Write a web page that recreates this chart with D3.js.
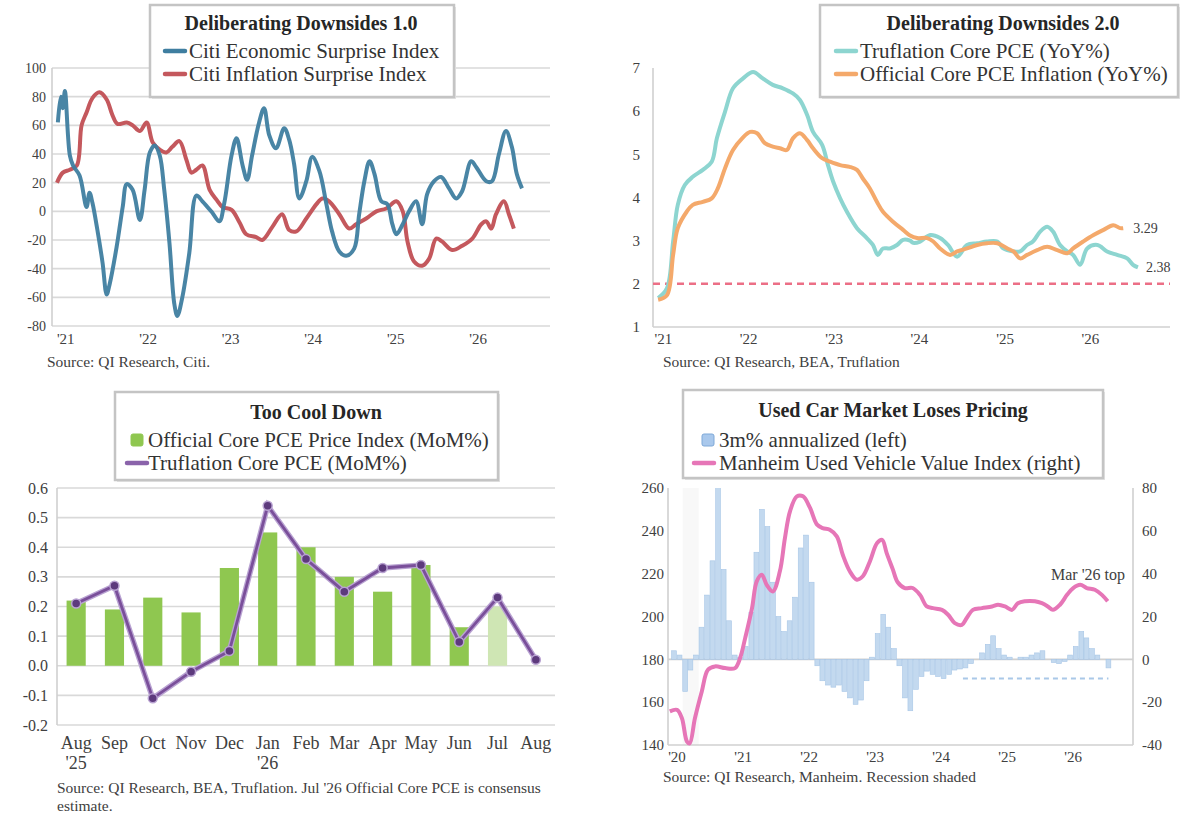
<!DOCTYPE html>
<html lang="en">
<head>
<meta charset="UTF-8">
<title>Inflation Dashboard</title>
<script src="https://cdn.jsdelivr.net/npm/d3@7.8.5/dist/d3.min.js"></script>
<style>
  body { margin: 0; background: #fff; }
  svg { display: block; font-family: "Liberation Serif", "Times New Roman", serif; }
  .tick { fill: #404040; }
  .grid { stroke: #d9d9d9; stroke-width: 1.6; }
  .axis { stroke: #d0d0d0; stroke-width: 1.6; }
  .legend-box { fill: #fff; stroke: #c4c4c4; stroke-width: 2.5; }
  .source { font-size: 15.5px; fill: #404040; }
</style>
</head>
<body>
<svg id="chart" width="1190" height="822"></svg>
<script>
// ---- Panel 1: Citi surprise indices ----
const citiEconomic = [
  ["2020-11-27",62],["2020-12-10",80],["2020-12-19",72],["2020-12-28",84],["2021-01-19",39],
  ["2021-02-02",32],["2021-03-03",25],["2021-04-03",3],["2021-04-16",13],["2021-04-29",6],
  ["2021-05-21",-13],["2021-06-13",-36],["2021-07-01",-58],["2021-07-14",-51],["2021-08-14",-25],
  ["2021-09-10",3],["2021-09-28",19],["2021-10-24",15],["2021-11-25",-6],["2021-12-16",15],
  ["2022-01-08",41],["2022-01-30",46],["2022-02-21",39],["2022-03-13",15],["2022-04-05",-22],
  ["2022-04-27",-65],["2022-05-10",-73],["2022-06-01",-60],["2022-07-02",-29],["2022-08-02",11],
  ["2022-08-29",7],["2022-10-12",-1],["2022-11-12",-7],["2022-12-04",6],["2023-01-05",39],
  ["2023-01-27",51],["2023-02-23",32],["2023-03-15",22],["2023-04-06",39],["2023-05-07",62],
  ["2023-05-29",72],["2023-06-21",53],["2023-07-21",44],["2023-08-26",58],["2023-09-17",50],
  ["2023-10-09",33],["2023-11-01",9],["2023-12-02",21],["2023-12-28",38],["2024-01-29",28],
  ["2024-02-29",5],["2024-03-25",-14],["2024-04-26",-28],["2024-05-27",-31],["2024-07-01",-26],
  ["2024-07-23",-2],["2024-08-15",21],["2024-09-07",35],["2024-09-29",26],["2024-10-29",7],
  ["2024-11-25",5],["2024-12-17",-9],["2025-01-04",-16],["2025-02-01",-9],["2025-03-01",0],
  ["2025-04-01",7],["2025-04-28",-9],["2025-05-20",12],["2025-06-20",21],["2025-07-21",24],
  ["2025-08-25",16],["2025-09-26",9],["2025-10-22",14],["2025-12-01",35],["2025-12-23",31],
  ["2026-02-06",21],["2026-03-03",21],["2026-04-03",40],["2026-05-04",56],["2026-05-30",45],
  ["2026-06-21",26],["2026-07-14",16]
];
const citiInflation = [
  ["2020-11-23",20],["2020-12-19",27],["2021-01-19",29],["2021-02-19",32],["2021-03-12",60],
  ["2021-04-03",69],["2021-04-29",79],["2021-05-30",83],["2021-07-01",78],["2021-07-27",67],
  ["2021-08-18",61],["2021-09-28",62],["2021-10-24",60],["2021-11-25",56],["2021-12-25",62],
  ["2022-01-21",48],["2022-02-21",43],["2022-03-22",41],["2022-04-18",45],["2022-05-19",49],
  ["2022-06-19",36],["2022-07-11",27],["2022-08-02",29],["2022-08-29",32],["2022-09-30",15],
  ["2022-10-31",8],["2022-11-26",3],["2023-01-05",1],["2023-02-10",-8],["2023-03-11",-16],
  ["2023-04-24",-18],["2023-05-21",-20],["2023-07-04",-11],["2023-08-17",-2],["2023-09-17",-13],
  ["2023-10-19",-14],["2023-12-02",-5],["2024-01-16",5],["2024-02-11",9],["2024-03-12",7],
  ["2024-04-26",-2],["2024-06-09",-12],["2024-07-10",-9],["2024-08-23",-5],["2024-10-07",0],
  ["2024-11-20",2],["2025-01-04",7],["2025-02-01",0],["2025-02-22",-21],["2025-03-23",-35],
  ["2025-04-28",-38],["2025-05-29",-33],["2025-06-29",-19],["2025-07-25",-21],["2025-09-08",-27],
  ["2025-10-22",-24],["2025-12-06",-19],["2026-01-15",-9],["2026-02-06",-7],["2026-02-28",-12],
  ["2026-03-21",-2],["2026-04-25",7],["2026-05-17",-2],["2026-06-08",-12]
];

// ---- Panel 2: Core PCE YoY ----
const truflationYoY = [
  ["2020-12-10",1.67],["2021-01-17",1.90],["2021-02-12",2.98],["2021-03-04",3.83],["2021-04-03",4.29],
  ["2021-05-07",4.48],["2021-06-19",4.64],["2021-07-27",4.83],["2021-08-18",5.37],["2021-09-22",5.99],
  ["2021-10-26",6.53],["2021-12-08",6.76],["2022-01-20",6.91],["2022-03-02",6.76],["2022-04-14",6.61],
  ["2022-05-27",6.53],["2022-07-09",6.41],["2022-08-08",6.26],["2022-09-08",5.91],["2022-10-03",5.52],
  ["2022-11-11",5.22],["2022-12-06",4.75],["2022-12-28",4.37],["2023-01-27",3.98],["2023-02-25",3.67],
  ["2023-04-09",3.29],["2023-05-21",3.06],["2023-06-16",2.90],["2023-07-07",2.67],["2023-07-29",2.82],
  ["2023-08-28",2.82],["2023-09-27",2.90],["2023-10-23",3.02],["2023-11-22",3.00],["2023-12-05",2.95],
  ["2024-01-04",2.98],["2024-02-16",3.13],["2024-03-29",3.06],["2024-05-02",2.90],["2024-06-10",2.63],
  ["2024-07-22",2.90],["2024-09-04",2.94],["2024-10-16",2.98],["2024-11-29",2.98],["2024-12-24",2.82],
  ["2025-02-06",2.75],["2025-03-06",2.75],["2025-04-05",2.90],["2025-04-30",2.98],["2025-05-31",3.21],
  ["2025-06-30",3.32],["2025-07-25",3.21],["2025-08-24",2.90],["2025-09-24",2.75],["2025-10-19",2.67],
  ["2025-11-18",2.44],["2025-12-18",2.82],["2026-01-31",2.90],["2026-03-13",2.75],["2026-04-25",2.67],
  ["2026-06-07",2.59],["2026-07-02",2.44],["2026-07-23",2.38]
];
const officialYoY = [
  ["2020-12-10",1.63],["2021-01-17",1.74],["2021-02-12",2.67],["2021-03-04",3.29],["2021-04-11",3.67],
  ["2021-05-07",3.83],["2021-06-19",3.90],["2021-07-27",3.98],["2021-08-22",4.21],["2021-09-22",4.68],
  ["2021-10-26",5.10],["2021-12-04",5.37],["2022-01-07",5.52],["2022-02-06",5.49],["2022-03-11",5.26],
  ["2022-04-14",5.18],["2022-05-14",5.14],["2022-06-13",5.10],["2022-07-09",5.37],["2022-08-08",5.49],
  ["2022-09-08",5.33],["2022-10-03",5.14],["2022-11-11",4.91],["2022-12-15",4.83],["2023-01-27",4.75],
  ["2023-03-09",4.71],["2023-04-09",4.64],["2023-05-04",4.44],["2023-06-03",4.21],["2023-07-03",3.90],
  ["2023-07-29",3.67],["2023-09-10",3.44],["2023-10-23",3.25],["2023-11-22",3.12],["2023-12-22",3.06],
  ["2024-02-03",3.06],["2024-02-29",2.98],["2024-03-29",2.82],["2024-05-11",2.67],["2024-06-10",2.75],
  ["2024-07-22",2.82],["2024-09-04",2.90],["2024-10-16",2.94],["2024-11-29",2.94],["2025-01-11",2.82],
  ["2025-02-06",2.75],["2025-03-06",2.59],["2025-04-05",2.67],["2025-05-18",2.78],["2025-06-30",2.86],
  ["2025-08-12",2.78],["2025-09-24",2.71],["2025-10-19",2.82],["2025-12-01",2.98],["2026-01-14",3.13],
  ["2026-02-26",3.25],["2026-04-08",3.36],["2026-05-08",3.29],["2026-05-21",3.29]
];
const pceTarget = 2;

// ---- Panel 3: MoM ----
const momMonths = ["Aug '25","Sep","Oct","Nov","Dec","Jan '26","Feb","Mar","Apr","May","Jun","Jul","Aug"];
const officialMoM = [0.22,0.19,0.23,0.18,0.33,0.45,0.40,0.30,0.25,0.34,0.13,0.20,null];
const officialIsEstimate = [false,false,false,false,false,false,false,false,false,false,false,true,false];
const truflationMoM = [0.21,0.27,-0.11,-0.02,0.05,0.54,0.36,0.25,0.33,0.34,0.08,0.23,0.02];

// ---- Panel 4: used cars ----
const bars3mStart = "2019-12-15";
const bars3mValues = [4,2,-15,-5,2,15,30,46,95,42,18,2,1,6,22,50,70,62,36,20,13,18,29,52,58,36,
  -3,-10,-12,-13,-12,-15,-18,-21,-19,-10,1,12,21,15,5,-3,-18,-24,-14,-8,-5.5,-7,-8,-9,-7,-5,-4.5,-4,
  -2,0,3,7,11,5,2,1,0,1,1,2,3,4,0,-1.5,-2,-1,2,6,13,10,5,2,0,-4];
const barsGuide = {from: "2024-05-01", to: "2026-07-15", value: -9};
const manheim = [
  ["2019-11-22",155.7],["2020-01-01",156.4],["2020-01-28",152.5],["2020-02-25",141.6],["2020-03-11",140.8],
  ["2020-04-09",152.5],["2020-05-17",165],["2020-06-20",175.1],["2020-07-29",176.7],["2020-09-23",175.9],
  ["2020-11-17",175.9],["2020-12-15",180.6],["2021-01-12",189.9],["2021-02-19",203.9],["2021-03-17",216.4],
  ["2021-04-14",219.5],["2021-05-11",214.8],["2021-06-14",211.7],["2021-07-23",221.1],["2021-08-20",236.6],
  ["2021-09-17",249.1],["2021-10-25",256.1],["2021-11-28",256.1],["2022-01-06",250.7],["2022-02-14",242.9],
  ["2022-03-17",241.3],["2022-04-25",240.5],["2022-06-03",237.4],["2022-07-06",228.8],["2022-08-14",221.1],
  ["2022-09-22",217.2],["2022-10-25",218.8],["2022-12-03",225.7],["2023-01-12",234.3],["2023-02-09",235.8],
  ["2023-03-06",229.6],["2023-04-09",222],["2023-05-06",216],["2023-06-14",213.3],["2023-07-28",213.3],
  ["2023-09-06",210.1],["2023-10-14",204.7],["2023-11-17",203.9],["2024-01-06",203.1],["2024-02-09",200.8],
  ["2024-03-17",196.9],["2024-04-25",196.1],["2024-05-22",199.3],["2024-06-25",203.1],["2024-08-14",203.9],
  ["2024-10-09",204.7],["2024-11-11",205.5],["2024-12-20",204.7],["2025-01-28",203.1],["2025-03-01",206.2],
  ["2025-04-09",207.1],["2025-06-03",207.1],["2025-07-12",206.2],["2025-08-14",204.7],["2025-09-11",203.1],
  ["2025-10-20",205.5],["2025-11-28",210.1],["2026-01-01",213.3],["2026-02-09",214.8],["2026-03-17",213.3],
  ["2026-05-01",212.5],["2026-06-09",210.1],["2026-07-11",207.1]
];
const recessions = [["2020-02-01","2020-04-30"]];

const parse = d3.timeParse("%Y-%m-%d");
const yearFmt = d => "'" + d3.timeFormat("%y")(d);
const svg = d3.select("#chart");

function legend(g, o) {
  g.append("rect").attr("x", o.x + 2).attr("y", o.y + 2).attr("width", o.w).attr("height", o.h).attr("fill", "#e4e4e4");
  g.append("rect").attr("class", "legend-box").attr("x", o.x).attr("y", o.y).attr("width", o.w).attr("height", o.h);
  g.append("text").attr("x", o.tx).attr("y", o.ty).attr("text-anchor", "middle")
    .attr("font-size", 20).attr("font-weight", "bold").attr("fill", "#262626").text(o.title);
  o.items.forEach(it => {
    if (it.square) {
      g.append("rect").attr("x", it.mx - 6).attr("y", it.y - 6).attr("width", 12).attr("height", 12)
        .attr("rx", 2).attr("fill", it.color).attr("stroke", it.stroke || it.color);
    } else {
      g.append("line").attr("x1", it.mx - 10).attr("x2", it.mx + 10).attr("y1", it.y).attr("y2", it.y)
        .attr("stroke", it.color).attr("stroke-width", 4.5).attr("stroke-linecap", "round");
    }
    g.append("text").attr("x", it.lx).attr("y", it.y).attr("dy", "0.35em")
      .attr("font-size", 21).attr("fill", "#333").text(it.label);
  });
}

// ================= Panel 1 =================
{
  const g = svg.append("g");
  const x = d3.scaleTime().domain([new Date(2020, 10, 1), new Date(2026, 10, 15)]).range([52, 550]);
  const y = d3.scaleLinear().domain([-80, 100]).range([326, 68]);
  g.selectAll(".grid").data(y.ticks(10)).join("line").attr("class", "grid")
    .attr("x1", 52).attr("x2", 550).attr("y1", d => y(d)).attr("y2", d => y(d));
  g.append("line").attr("class", "axis").attr("x1", 52).attr("x2", 52).attr("y1", y(100)).attr("y2", y(-80));
  g.selectAll(".yl").data(y.ticks(10)).join("text").attr("class", "tick")
    .attr("x", 46).attr("y", d => y(d)).attr("dy", "0.35em").attr("text-anchor", "end")
    .attr("font-size", 14).text(d => d);
  g.selectAll(".xl").data(d3.timeYear.range(new Date(2021, 0, 1), new Date(2027, 0, 1))).join("text")
    .attr("class", "tick").attr("x", d => x(d)).attr("y", 344).attr("text-anchor", "middle")
    .attr("font-size", 15).text(yearFmt);
  const line = d3.line().x(d => x(parse(d[0]))).y(d => y(d[1])).curve(d3.curveCatmullRom.alpha(0.5));
  g.append("path").attr("d", line(citiInflation)).attr("fill", "none").attr("stroke", "#c4585d")
    .attr("stroke-width", 4).attr("stroke-linejoin", "round");
  g.append("path").attr("d", line(citiEconomic)).attr("fill", "none").attr("stroke", "#3f7ea0")
    .attr("stroke-width", 4).attr("stroke-linejoin", "round").attr("opacity", 0.95);
  g.append("text").attr("class", "source").attr("x", 47).attr("y", 367).text("Source: QI Research, Citi.");
  legend(g, {x: 150, y: 5, w: 304, h: 92, tx: 301, ty: 30, title: "Deliberating Downsides 1.0", items: [
    {color: "#3f7ea0", mx: 175, lx: 189, y: 51, label: "Citi Economic Surprise Index"},
    {color: "#c4585d", mx: 175, lx: 189, y: 74, label: "Citi Inflation Surprise Index"}
  ]});
}

// ================= Panel 2 =================
{
  const g = svg.append("g");
  const x = d3.scaleTime().domain([new Date(2020, 10, 18), new Date(2026, 11, 7)]).range([653, 1170]);
  const y = d3.scaleLinear().domain([1, 7]).range([327, 68]);
  g.append("line").attr("class", "axis").attr("x1", 653).attr("x2", 653).attr("y1", y(7)).attr("y2", y(1));
  g.append("line").attr("class", "axis").attr("x1", 653).attr("x2", 1170).attr("y1", y(1)).attr("y2", y(1));
  g.selectAll(".yl").data(y.ticks(6)).join("text").attr("class", "tick")
    .attr("x", 640).attr("y", d => y(d)).attr("dy", "0.35em").attr("text-anchor", "end")
    .attr("font-size", 15).text(d => d);
  g.selectAll(".xl").data(d3.timeYear.range(new Date(2021, 0, 1), new Date(2027, 0, 1))).join("text")
    .attr("class", "tick").attr("x", d => x(d)).attr("y", 344).attr("text-anchor", "middle")
    .attr("font-size", 15).text(yearFmt);
  g.append("line").attr("x1", 653).attr("x2", 1170).attr("y1", y(pceTarget)).attr("y2", y(pceTarget))
    .attr("stroke", "#ec6f86").attr("stroke-width", 2.5).attr("stroke-dasharray", "7,5");
  const line = d3.line().x(d => x(parse(d[0]))).y(d => y(d[1])).curve(d3.curveCatmullRom.alpha(0.5));
  g.append("path").attr("d", line(truflationYoY)).attr("fill", "none").attr("stroke", "#8dd5d0")
    .attr("stroke-width", 4).attr("stroke-linejoin", "round");
  g.append("path").attr("d", line(officialYoY)).attr("fill", "none").attr("stroke", "#f4a96b")
    .attr("stroke-width", 4).attr("stroke-linejoin", "round");
  const lastO = officialYoY[officialYoY.length - 1], lastT = truflationYoY[truflationYoY.length - 1];
  g.append("text").attr("class", "tick").attr("font-size", 14).attr("x", x(parse(lastO[0])) + 10)
    .attr("y", y(lastO[1])).attr("dy", "0.35em").text(lastO[1].toFixed(2));
  g.append("text").attr("class", "tick").attr("font-size", 14).attr("x", x(parse(lastT[0])) + 8)
    .attr("y", y(lastT[1])).attr("dy", "0.35em").text(lastT[1].toFixed(2));
  g.append("text").attr("class", "source").attr("x", 663).attr("y", 367).text("Source: QI Research, BEA, Truflation");
  legend(g, {x: 820, y: 5, w: 358, h: 92, tx: 1003, ty: 30, title: "Deliberating Downsides 2.0", items: [
    {color: "#8dd5d0", mx: 846, lx: 860, y: 51, label: "Truflation Core PCE (YoY%)"},
    {color: "#f4a96b", mx: 846, lx: 860, y: 74, label: "Official Core PCE Inflation (YoY%)"}
  ]});
}

// ================= Panel 3 =================
{
  const g = svg.append("g");
  const x = d3.scaleBand().domain(momMonths).range([57, 555]).paddingInner(0.5).paddingOuter(0.25);
  const y = d3.scaleLinear().domain([-0.2, 0.6]).range([725, 488]);
  const ticks = d3.range(-2, 7).map(i => i / 10);
  g.selectAll(".grid").data(ticks).join("line").attr("class", "grid")
    .attr("x1", 57).attr("x2", 555).attr("y1", d => y(d)).attr("y2", d => y(d));
  g.append("line").attr("class", "axis").attr("x1", 57).attr("x2", 57).attr("y1", y(0.6)).attr("y2", y(-0.2));
  g.selectAll(".yl").data(ticks).join("text").attr("class", "tick")
    .attr("x", 48).attr("y", d => y(d)).attr("dy", "0.35em").attr("text-anchor", "end")
    .attr("font-size", 16).text(d => d.toFixed(1));
  const xl = g.selectAll(".xl").data(momMonths).join("text").attr("class", "tick")
    .attr("x", d => x(d) + x.bandwidth() / 2).attr("y", 749).attr("text-anchor", "middle").attr("font-size", 18);
  xl.each(function(d) {
    const parts = d.split(" ");
    parts.forEach((p, i) => d3.select(this).append("tspan")
      .attr("x", x(d) + x.bandwidth() / 2).attr("dy", i ? 20 : 0).text(p));
  });
  const barData = momMonths.map((m, i) => ({m, v: officialMoM[i], est: officialIsEstimate[i]})).filter(d => d.v != null);
  g.selectAll(".bar").data(barData).join("rect")
    .attr("x", d => x(d.m)).attr("width", x.bandwidth())
    .attr("y", d => y(Math.max(0, d.v))).attr("height", d => Math.abs(y(d.v) - y(0)))
    .attr("fill", d => d.est ? "#cfe6b4" : "#8fc750");
  const pts = momMonths.map((m, i) => ({m, v: truflationMoM[i]}));
  const line = d3.line().x(d => x(d.m) + x.bandwidth() / 2).y(d => y(d.v));
  g.append("path").attr("d", line(pts)).attr("fill", "none").attr("stroke", "#b9a3d2").attr("stroke-width", 5.5);
  g.append("path").attr("d", line(pts)).attr("fill", "none").attr("stroke", "#7a4f9a").attr("stroke-width", 2.8);
  g.selectAll(".pt").data(pts).join("circle").attr("cx", d => x(d.m) + x.bandwidth() / 2).attr("cy", d => y(d.v))
    .attr("r", 4.5).attr("fill", "#5d3a7d").attr("stroke", "#b9a3d2").attr("stroke-width", 1.5);
  g.append("text").attr("class", "source").attr("font-size", 16).attr("x", 57).attr("y", 793)
    .text("Source: QI Research, BEA, Truflation. Jul '26 Official Core PCE is consensus");
  g.append("text").attr("class", "source").attr("font-size", 16).attr("x", 57).attr("y", 811).text("estimate.");
  legend(g, {x: 115, y: 392, w: 383, h: 88, tx: 316, ty: 419, title: "Too Cool Down", items: [
    {square: true, color: "#8fc750", mx: 137, lx: 148, y: 440, label: "Official Core PCE Price Index (MoM%)"},
    {color: "#8a63aa", mx: 137, lx: 148, y: 463, label: "Truflation Core PCE (MoM%)"}
  ]});
}

// ================= Panel 4 =================
{
  const g = svg.append("g");
  const x = d3.scaleTime().domain([new Date(2019, 10, 12), new Date(2026, 10, 28)]).range([668, 1133]);
  const yL = d3.scaleLinear().domain([140, 260]).range([745, 488]);
  const yR = d3.scaleLinear().domain([-40, 80]).range([745, 488]);
  g.append("clipPath").attr("id", "clip4").append("rect").attr("x", 668).attr("y", 488).attr("width", 465).attr("height", 257);
  recessions.forEach(r => g.append("rect").attr("x", x(parse(r[0]))).attr("width", x(parse(r[1])) - x(parse(r[0])))
    .attr("y", 488).attr("height", 257).attr("fill", "#f8f8f8"));
  g.append("line").attr("class", "axis").attr("x1", 668).attr("x2", 668).attr("y1", 488).attr("y2", 745);
  g.append("line").attr("class", "axis").attr("x1", 1133).attr("x2", 1133).attr("y1", 488).attr("y2", 745);
  g.append("line").attr("class", "axis").attr("x1", 668).attr("x2", 1133).attr("y1", 745).attr("y2", 745);
  g.append("line").attr("class", "axis").attr("x1", 668).attr("x2", 1133).attr("y1", yR(0)).attr("y2", yR(0));
  g.selectAll(".yl").data(yL.ticks(6)).join("text").attr("class", "tick")
    .attr("x", 664).attr("y", d => yL(d)).attr("dy", "0.35em").attr("text-anchor", "end")
    .attr("font-size", 15).text(d => d);
  g.selectAll(".yr").data(yR.ticks(6)).join("text").attr("class", "tick")
    .attr("x", 1142).attr("y", d => yR(d)).attr("dy", "0.35em").attr("text-anchor", "start")
    .attr("font-size", 15).text(d => d);
  g.selectAll(".xl").data(d3.timeYear.range(new Date(2020, 0, 1), new Date(2027, 0, 1))).join("text")
    .attr("class", "tick").attr("x", d => x(d)).attr("y", 762).attr("text-anchor", "middle")
    .attr("font-size", 15).text(yearFmt);
  const start = parse(bars3mStart);
  const bars = bars3mValues.map((v, i) => ({d: d3.timeMonth.offset(start, i), v}));
  const bw = x(d3.timeMonth.offset(start, 1)) - x(start);
  g.append("g").attr("clip-path", "url(#clip4)").selectAll("rect").data(bars).join("rect")
    .attr("x", d => x(d.d) - bw / 2 + 0.4).attr("width", bw - 0.8)
    .attr("y", d => yR(Math.max(0, d.v))).attr("height", d => Math.abs(yR(d.v) - yR(0)))
    .attr("fill", "#c3d9ef").attr("stroke", "#a7c6e6").attr("stroke-width", 0.6);
  g.append("line").attr("x1", x(parse(barsGuide.from))).attr("x2", x(parse(barsGuide.to)))
    .attr("y1", yR(barsGuide.value)).attr("y2", yR(barsGuide.value))
    .attr("stroke", "#a9c8e8").attr("stroke-width", 2).attr("stroke-dasharray", "5,4");
  const line = d3.line().x(d => x(parse(d[0]))).y(d => yL(d[1])).curve(d3.curveCatmullRom.alpha(0.5));
  g.append("path").attr("d", line(manheim)).attr("fill", "none").attr("stroke", "#e676b7")
    .attr("stroke-width", 4).attr("stroke-linejoin", "round");
  g.append("text").attr("class", "tick").attr("font-size", 16).attr("x", 1088).attr("y", 580)
    .attr("text-anchor", "middle").text("Mar '26 top");
  g.append("text").attr("class", "source").attr("x", 663).attr("y", 782).text("Source: QI Research, Manheim. Recession shaded");
  legend(g, {x: 683, y: 390, w: 420, h: 88, tx: 893, ty: 417, title: "Used Car Market Loses Pricing", items: [
    {square: true, color: "#a9c8ec", stroke: "#7ea9d8", mx: 708, lx: 719, y: 440, label: "3m% annualized (left)"},
    {color: "#e676b7", mx: 704, lx: 719, y: 463, label: "Manheim Used Vehicle Value Index (right)"}
  ]});
}
</script>
</body>
</html>
